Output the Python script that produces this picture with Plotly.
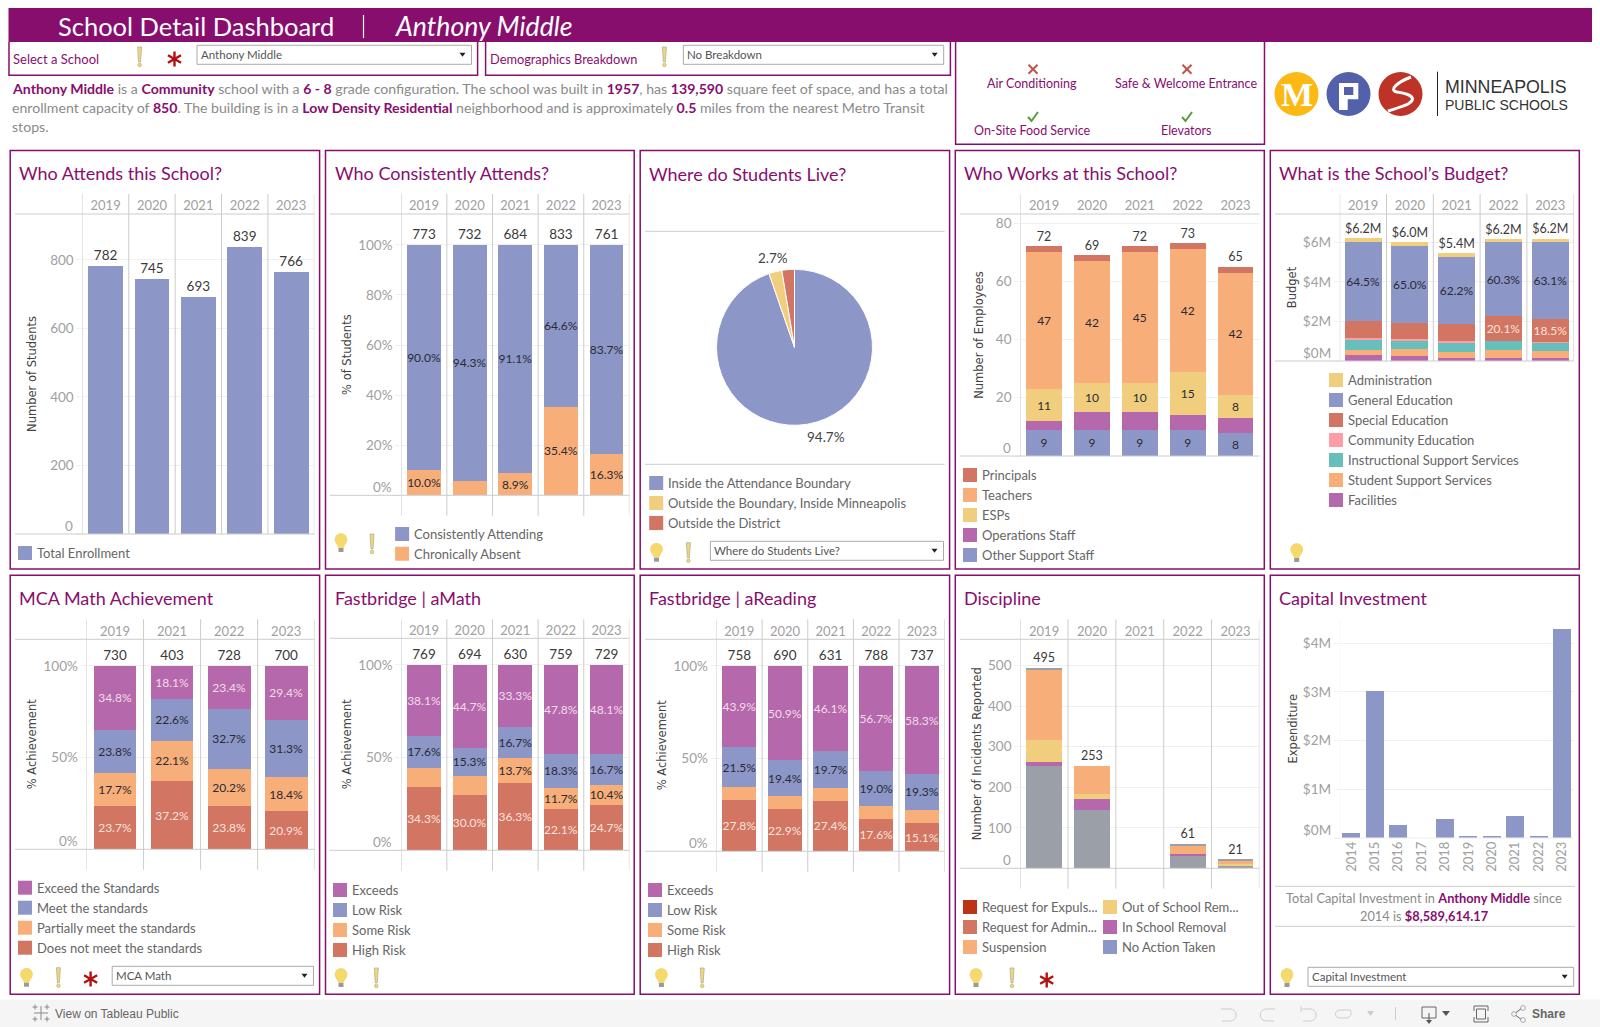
import plotly.graph_objects as go

W, H = 1600, 1027
FONT = "Lato"
AXF = "DejaVu Sans"
PURPLE = "#880E6E"
TXT = "#666666"
TICK = "#A0A0A0"
BLUE = "#8C97C8"
ORANGE = "#F8AE78"
YELLOW = "#F1CE7E"
RED = "#D27562"
MAUVE = "#B569AC"
TEAL = "#66BFBA"
PINK = "#FF9DA7"
GRAY = "#9A9FA8"
DRED = "#BC3318"
LIGHT = "#F3DBE9"
DARK = "#2A2A35"

YEARS = ["2019", "2020", "2021", "2022", "2023"]
MCA_YEARS = ["2019", "2021", "2022", "2023"]
CAP_YEARS = ["2014", "2015", "2016", "2017", "2018", "2019", "2020", "2021", "2022", "2023"]

ENROLL = [782, 745, 693, 839, 766]

ATT_TOTAL = [773, 732, 684, 833, 761]
ATT_ABSENT = [10.0, 5.7, 8.9, 35.4, 16.3]
ATT_CONSIST = [90.0, 94.3, 91.1, 64.6, 83.7]
ATT_ABSENT_SHOW = [True, False, True, True, True]

LIVE_NAMES = ["Inside the Attendance Boundary", "Outside the Boundary, Inside Minneapolis", "Outside the District"]
LIVE_VALUES = [94.7, 2.7, 2.6]

STAFF_TOTAL = [72, 69, 72, 73, 65]
STAFF_OTHER = [9, 9, 9, 9, 8]
STAFF_OPS = [3, 6, 6, 5, 5]
STAFF_ESP = [11, 10, 10, 15, 8]
STAFF_TEACH = [47, 42, 45, 42, 42]
STAFF_PRIN = [2, 2, 2, 2, 2]

BUD_TOTAL = ["$6.2M", "$6.0M", "$5.4M", "$6.2M", "$6.2M"]
BUD_FAC = [0.30, 0.25, 0.15, 0.15, 0.15]
BUD_STU = [0.25, 0.35, 0.30, 0.41, 0.35]
BUD_INS = [0.56, 0.46, 0.51, 0.46, 0.46]
BUD_COM = [0.05, 0.05, 0.05, 0.00, 0.02]
BUD_SPE = [0.86, 0.81, 0.88, 1.25, 1.15]
BUD_GEN = [4.00, 3.90, 3.36, 3.74, 3.91]
BUD_ADM = [0.20, 0.20, 0.20, 0.17, 0.15]
BUD_GEN_PCT = ["64.5%", "65.0%", "62.2%", "60.3%", "63.1%"]
BUD_SPE_PCT = ["", "", "", "20.1%", "18.5%"]

MCA_TOTAL = [730, 403, 728, 700]
MCA_NOT = [23.7, 37.2, 23.8, 20.9]
MCA_PART = [17.7, 22.1, 20.2, 18.4]
MCA_MEET = [23.8, 22.6, 32.7, 31.3]
MCA_EXC = [34.8, 18.1, 23.4, 29.4]

AM_TOTAL = [769, 694, 630, 759, 729]
AM_HIGH = [34.3, 30.0, 36.3, 22.1, 24.7]
AM_SOME = [10.0, 10.0, 13.7, 11.7, 10.4]
AM_LOW = [17.6, 15.3, 16.7, 18.3, 16.7]
AM_EXC = [38.1, 44.7, 33.3, 47.8, 48.1]
AM_SOME_SHOW = [False, False, True, True, True]

AR_TOTAL = [758, 690, 631, 788, 737]
AR_HIGH = [27.8, 22.9, 27.4, 17.6, 15.1]
AR_SOME = [6.8, 6.8, 6.8, 6.7, 7.3]
AR_LOW = [21.5, 19.4, 19.7, 19.0, 19.3]
AR_EXC = [43.9, 50.9, 46.1, 56.7, 58.3]
AR_SOME_SHOW = [False, False, False, False, False]

DIS_TOTAL = [495, 253, None, 61, 21]
DIS_BASE = [253, 145, 0, 31, 5]
DIS_INSCH = [10, 27, 0, 5, 0]
DIS_OUT = [54, 12, 0, 0, 5]
DIS_SUSP = [173, 69, 0, 20, 9]
DIS_TOP = [5, 0, 0, 5, 2]

CAP_VALUES = [0.10, 3.02, 0.267, 0.0, 0.39, 0.04, 0.02, 0.45, 0.02, 4.29]

shapes, annos, traces, layout_axes = [], [], [], {}


def X(p):
    return p / W


def Y(p):
    return 1 - p / H


def rect(x0, y0, x1, y1, fill=None, line=None, lw=1):
    shapes.append(dict(type="rect", xref="paper", yref="paper", x0=X(x0), x1=X(x1), y0=Y(y0), y1=Y(y1),
                       fillcolor=fill or "rgba(0,0,0,0)", line=dict(color=line or "rgba(0,0,0,0)", width=lw if line else 0)))


def seg(x0, y0, x1, y1, color="#CCCCCC", lw=1):
    shapes.append(dict(type="line", xref="paper", yref="paper", x0=X(x0), x1=X(x1), y0=Y(y0), y1=Y(y1),
                       line=dict(color=color, width=lw)))


def ell(cx, cy, rx, ry, fill, line=None):
    shapes.append(dict(type="circle", xref="paper", yref="paper", x0=X(cx - rx), x1=X(cx + rx), y0=Y(cy - ry), y1=Y(cy + ry),
                       fillcolor=fill, line=dict(color=line or fill, width=0.5 if line else 0)))


def path(cmds, fill=None, line=None, lw=1):
    out = []
    for c in cmds:
        if c == "Z":
            out.append("Z")
            continue
        vals = c[1:]
        coords = []
        for k in range(0, len(vals), 2):
            coords.append(f"{X(vals[k]):.5f},{Y(vals[k + 1]):.5f}")
        out.append(c[0] + " ".join(coords))
    shapes.append(dict(type="path", xref="paper", yref="paper", path=" ".join(out),
                       fillcolor=fill or "rgba(0,0,0,0)", line=dict(color=line or "rgba(0,0,0,0)", width=lw if line else 0)))


def txt(x, y, s, size=13, color=TXT, anchor="left", family=FONT, angle=0):
    annos.append(dict(xref="paper", yref="paper", x=X(x), y=Y(y), text=s, showarrow=False, xanchor=anchor, yanchor="middle",
                      font=dict(size=size, color=color, family=family), textangle=angle, borderpad=0, borderwidth=0))


def span(s):
    return f'<span style="color:{PURPLE}"><b>{s}</b></span>'


def bulb(cx, cy):
    ell(cx, cy - 3.5, 6, 6, "#F5D96B", "#E2C75A")
    path([("M", cx - 5, cy), ("L", cx - 2.5, cy + 5), ("L", cx + 2.5, cy + 5), ("L", cx + 5, cy), "Z"], fill="#F5D96B")
    rect(cx - 2.5, cy + 5, cx + 2.5, cy + 9, fill="#9A9A9A")


def excl(cx, cy):
    path([("M", cx - 2, cy - 10), ("L", cx + 2, cy - 10), ("L", cx + 1, cy + 5), ("L", cx - 1, cy + 5), "Z"], fill="#F1D77C", line="#A8A890", lw=0.7)
    ell(cx, cy + 8, 1.8, 1.8, "#F1D77C", "#A89A60")


def star(cx, cy, r=7.5):
    c = "#B01010"
    seg(cx, cy - r, cx, cy + r, c, 2.4)
    seg(cx - r * 0.87, cy - r * 0.5, cx + r * 0.87, cy + r * 0.5, c, 2.4)
    seg(cx - r * 0.87, cy + r * 0.5, cx + r * 0.87, cy - r * 0.5, c, 2.4)


def dropdown(x0, y0, x1, y1, s):
    rect(x0, y0, x1, y1, fill="white", line="#AAAAAA", lw=1)
    txt(x0 + 4, (y0 + y1) / 2, s, 11.5, "#555555")
    path([("M", x1 - 12, (y0 + y1) / 2 - 2), ("L", x1 - 6, (y0 + y1) / 2 - 2), ("L", x1 - 9, (y0 + y1) / 2 + 2), "Z"], fill="#222222")


def legend(x, rows, items, dy=20):
    for n, (name, col) in enumerate(items):
        yc = rows + n * dy
        rect(x, yc - 7, x + 14, yc + 7, fill=col)
        txt(x + 19, yc, name, 13, "#666666")


def panel(x0, y0, x1, y1, title, ty):
    rect(x0, y0, x1, y1, line=PURPLE, lw=1.5)
    txt(x0 + 9, ty, title, 18, PURPLE)


def chart(i, L, R, T, B, cats, ymax, yticks, ylabels, ytitle, vtop, vbot, hleft, seps=True, standoff=9, bottom_labels=False, hline=True, sepcol="#CCCCCC", basecol="#CCCCCC"):
    n = len(cats)
    layout_axes[f"xaxis{i}"] = dict(domain=[X(L), X(R)], range=[-0.5, n - 0.5], type="category", categoryorder="array",
                                    categoryarray=cats, side="bottom" if bottom_labels else "top", anchor=f"y{i}",
                                    showgrid=False, zeroline=False, showline=False, ticks="",
                                    tickangle=-90 if bottom_labels else 0,
                                    tickfont=dict(size=13, color=TICK, family=FONT), fixedrange=True)
    labs = [""] + list(ylabels[1:])
    layout_axes[f"yaxis{i}"] = dict(domain=[Y(B), Y(T)], range=[0, ymax], anchor=f"x{i}", tickmode="array", tickvals=yticks, ticktext=labs,
                                    showgrid=True, gridcolor="#F0F0F0", gridwidth=1, zeroline=False, showline=False,
                                    ticks="outside", ticklen=5, tickcolor="#F0F0F0",
                                    tickfont=dict(size=13.5, color=TICK, family=FONT), fixedrange=True,
                                    title=dict(text=ytitle, font=dict(size=11.5, color="#444444", family=AXF), standoff=standoff))
    annos.append(dict(xref=f"x{i} domain", yref=f"y{i}", x=0, y=yticks[0], text=ylabels[0], showarrow=False, xanchor="right", yanchor="middle",
                      xshift=-7, yshift=8.5, font=dict(size=13.5, color=TICK, family=FONT)))
    ks = range(n + 1) if seps else [0]
    for k in ks:
        shapes.append(dict(type="line", xref=f"x{i}", yref="paper", x0=k - 0.5, x1=k - 0.5, y0=Y(vtop), y1=Y(vbot), line=dict(color=sepcol, width=1)))
    if hline:
        seg(hleft, T, R, T)
    seg(hleft, B, R, B, basecol)


def stack(i, cats, series, width=0.75, size=12):
    for name, vals, col, labels, tcol in series:
        traces.append(go.Bar(x=cats, y=vals, name=name, marker=dict(color=col, line=dict(width=0)), width=width,
                             xaxis=f"x{i}", yaxis=f"y{i}", text=labels, textposition="inside", insidetextanchor="middle",
                             textangle=0, constraintext="none", textfont=dict(size=size, color=tcol, family=FONT),
                             cliponaxis=False, showlegend=False, hoverinfo="skip"))


def totals(i, cats, ys, labels, size=13.5):
    traces.append(go.Scatter(x=cats, y=ys, text=labels, mode="markers+text", textposition="top center", marker=dict(size=2, opacity=0),
                             textfont=dict(size=size, color="#3A3A3A", family=FONT), xaxis=f"x{i}", yaxis=f"y{i}",
                             cliponaxis=False, showlegend=False, hoverinfo="skip"))


def pct(vals, show=None):
    return [f"{v:.1f}%" if (show is None or show[k]) else "" for k, v in enumerate(vals)]


# ---------- header ----------
rect(8.5, 8, 1592, 42, fill=PURPLE)
txt(58, 26, "School Detail Dashboard", 25.5, "white")
seg(363.5, 15, 363.5, 38, "white", 1.2)
txt(394.5, 26, "<i>Anthony Middle</i>", 26.7, "white")
for a, b in ((9, 477.6), (485.6, 950.4)):
    path([("M", a, 42), ("L", a, 75.3), ("L", b, 75.3), ("L", b, 42)], line=PURPLE, lw=1.5)
txt(13, 59, "Select a School", 13, PURPLE)
excl(139.6, 57)
star(174.5, 59)
dropdown(197, 45.3, 471.5, 64.3, "Anthony Middle")
txt(490, 59, "Demographics Breakdown", 12.8, PURPLE)
excl(664.4, 57)
dropdown(683.4, 45.3, 943.7, 64.3, "No Breakdown")

txt(12, 88.2, f"{span('Anthony Middle')} is a {span('Community')} school with a {span('6 - 8')} grade configuration. The school was built in {span('1957')}, has {span('139,590')} square feet of space, and has a total", 14.12, "#8A8A8A")
txt(12, 107.2, f"enrollment capacity of {span('850')}. The building is in a {span('Low Density Residential')} neighborhood and is approximately {span('0.5')} miles from the nearest Metro Transit", 14.12, "#8A8A8A")
txt(12, 126.5, "stops.", 14.12, "#8A8A8A")

path([("M", 955.6, 42), ("L", 955.6, 144.3), ("L", 1264.5, 144.3), ("L", 1264.5, 42)], line=PURPLE, lw=1.5)
for cx, cy in ((1033, 69.3), (1187, 69.3)):
    seg(cx - 4.5, cy - 4.5, cx + 4.5, cy + 4.5, "#C0524A", 2)
    seg(cx - 4.5, cy + 4.5, cx + 4.5, cy - 4.5, "#C0524A", 2)
for cx, cy in ((1033, 117), (1187, 117)):
    path([("M", cx - 5, cy), ("L", cx - 1.5, cy + 4), ("L", cx + 5, cy - 5)], line="#5B9A3A", lw=2)
for cx, cy, s in ((1032, 83.7, "Air Conditioning"), (1186, 83.7, "Safe &amp; Welcome Entrance"), (1032, 130.7, "On-Site Food Service"), (1186, 130.7, "Elevators")):
    txt(cx, cy, s, 12.5, PURPLE, "center")

# logo
ell(1296.5, 94, 22, 22, "#FCB813")
txt(1296.5, 95, "<b>M</b>", 34, "white", "center", "Liberation Serif")
ell(1348.5, 94, 22, 22, "#5361AB")
path([("M", 1339, 83), ("L", 1358.3, 83), ("L", 1358.3, 99.3), ("L", 1347.7, 99.3), ("L", 1347.7, 110), ("L", 1339, 110), "Z"], fill="white")
rect(1344, 87, 1353.3, 95, fill="#5361AB")
ell(1400.5, 94, 22, 22, "#BD3327")
path([("M", 1411, 77), ("C", 1398, 82, 1388, 90, 1397, 92), ("C", 1410, 94, 1418, 98, 1408, 104), ("C", 1402, 107, 1394, 109, 1388, 111)], line="white", lw=3)
seg(1437.5, 71.7, 1437.5, 116, "#222222", 1)
txt(1445, 87, "MINNEAPOLIS", 17.8, "#333333", family="Liberation Sans")
txt(1445, 105, "PUBLIC SCHOOLS", 14, "#333333", family="Liberation Sans")

# ---------- panels ----------
TOP = (150.5, 569)
BOT = (575.3, 994.3)
PX = [(10.2, 319.6), (325.5, 634.2), (640.2, 949.6), (955.3, 1264.3), (1270.3, 1579.3)]
T_TITLES = ["Who Attends this School?", "Who Consistently Attends?", "Where do Students Live?", "Who Works at this School?", "What is the School\u2019s Budget?"]
B_TITLES = ["MCA Math Achievement", "Fastbridge | aMath", "Fastbridge | aReading", "Discipline", "Capital Investment"]
for (a, b), t, extra in zip(PX, T_TITLES, (0, 0, 1, 0, 0)):
    panel(a, TOP[0], b, TOP[1], t, 173 + extra)
for (a, b), t in zip(PX, B_TITLES):
    panel(a, BOT[0], b, BOT[1], t, 598)

# 1 enrollment
chart(11, 82.4, 314.3, 214, 534, YEARS, 934, [0, 200, 400, 600, 800], ["0", "200", "400", "600", "800"], "Number of Students", 194, 534, 15, standoff=11)
stack(11, YEARS, [("Total Enrollment", ENROLL, BLUE, None, DARK)])
totals(11, YEARS, ENROLL, ENROLL)
legend(18, 553, [("Total Enrollment", BLUE)])

# 2 attendance
chart(2, 401.2, 629.4, 214, 495.3, YEARS, 112.3, [0, 20, 40, 60, 80, 100], ["0%", "20%", "40%", "60%", "80%", "100%"], "% of Students", 194, 515.7, 329.8, standoff=4)
stack(2, YEARS, [("Chronically Absent", ATT_ABSENT, ORANGE, pct(ATT_ABSENT, ATT_ABSENT_SHOW), DARK),
                 ("Consistently Attending", ATT_CONSIST, BLUE, pct(ATT_CONSIST), DARK)], 0.74)
totals(2, YEARS, [100] * 5, ATT_TOTAL)
legend(395.1, 534, [("Consistently Attending", BLUE), ("Chronically Absent", ORANGE)], 19.7)
bulb(341, 543)
excl(372, 544)

# 3 pie
seg(645, 231.3, 944.7, 231.3)
seg(645, 464.3, 944.7, 464.3)
traces.append(go.Pie(labels=LIVE_NAMES, values=LIVE_VALUES, sort=False, direction="clockwise", rotation=0,
                     marker=dict(colors=[BLUE, YELLOW, RED], line=dict(color="white", width=1)), textinfo="none",
                     domain=dict(x=[X(716.5), X(872.5)], y=[Y(425.6), Y(269)]), showlegend=False, hoverinfo="skip"))
txt(773, 258.5, f"{LIVE_VALUES[1]}%", 13.5, "#444444", "center")
txt(825.5, 436.5, f"{LIVE_VALUES[0]}%", 13.5, "#444444", "center")
legend(649.2, 483, [(LIVE_NAMES[0], BLUE), (LIVE_NAMES[1], YELLOW), (LIVE_NAMES[2], RED)])
bulb(656.5, 552.7)
excl(688.4, 552.7)
dropdown(710.4, 541.3, 943.5, 560.3, "Where do Students Live?")

# 4 staff
chart(4, 1020.2, 1259.4, 214, 456, YEARS, 83.1, [0, 20, 40, 60, 80], ["0", "20", "40", "60", "80"], "Number of Employees", 194, 456, 959.8, seps=False, standoff=9)
stack(4, YEARS, [("Other Support Staff", STAFF_OTHER, BLUE, [str(v) for v in STAFF_OTHER], DARK),
                 ("Operations Staff", STAFF_OPS, MAUVE, None, DARK),
                 ("ESPs", STAFF_ESP, YELLOW, [str(v) for v in STAFF_ESP], DARK),
                 ("Teachers", STAFF_TEACH, ORANGE, [str(v) for v in STAFF_TEACH], DARK),
                 ("Principals", STAFF_PRIN, RED, None, DARK)])
totals(4, YEARS, STAFF_TOTAL, STAFF_TOTAL, 12.5)
legend(963, 475, [("Principals", RED), ("Teachers", ORANGE), ("ESPs", YELLOW), ("Operations Staff", MAUVE), ("Other Support Staff", BLUE)])

# 5 budget
chart(5, 1339.7, 1573.7, 214, 361, YEARS, 7.44, [0, 2, 4, 6], ["$0M", "$2M", "$4M", "$6M"], "Budget", 194, 361, 1275, standoff=3)
stack(5, YEARS, [("Facilities", BUD_FAC, MAUVE, None, DARK), ("Student Support Services", BUD_STU, ORANGE, None, DARK),
                 ("Instructional Support Services", BUD_INS, TEAL, None, DARK), ("Community Education", BUD_COM, PINK, None, DARK),
                 ("Special Education", BUD_SPE, RED, BUD_SPE_PCT, "#F9E3DD"), ("General Education", BUD_GEN, BLUE, BUD_GEN_PCT, DARK),
                 ("Administration", BUD_ADM, YELLOW, None, DARK)], 0.79)
BUD_SUM = [sum(v) for v in zip(BUD_FAC, BUD_STU, BUD_INS, BUD_COM, BUD_SPE, BUD_GEN, BUD_ADM)]
totals(5, YEARS, BUD_SUM, BUD_TOTAL, 12.5)
legend(1329, 380, [("Administration", YELLOW), ("General Education", BLUE), ("Special Education", RED), ("Community Education", PINK),
                   ("Instructional Support Services", TEAL), ("Student Support Services", ORANGE), ("Facilities", MAUVE)])
bulb(1296.7, 553)

# 6 MCA
chart(6, 86.5, 314.7, 639.3, 849.3, MCA_YEARS, 114.5, [0, 50, 100], ["0%", "50%", "100%"], "% Achievement", 619.3, 869.7, 15, standoff=4)
stack(6, MCA_YEARS, [("Does not meet the standards", MCA_NOT, RED, pct(MCA_NOT), "#F9E3DD"),
                     ("Partially meet the standards", MCA_PART, ORANGE, pct(MCA_PART), DARK),
                     ("Meet the standards", MCA_MEET, BLUE, pct(MCA_MEET), DARK),
                     ("Exceed the Standards", MCA_EXC, MAUVE, pct(MCA_EXC), LIGHT)])
totals(6, MCA_YEARS, [100] * 4, MCA_TOTAL)
legend(18, 887.7, [("Exceed the Standards", MAUVE), ("Meet the standards", BLUE), ("Partially meet the standards", ORANGE), ("Does not meet the standards", RED)])
bulb(26.5, 977.7)
excl(58.4, 977.7)
star(90.6, 979)
dropdown(112.2, 966.3, 313.5, 985.3, "MCA Math")

# 7 aMath
RISK = [("Exceeds", MAUVE), ("Low Risk", BLUE), ("Some Risk", ORANGE), ("High Risk", RED)]
chart(7, 401.2, 629.4, 638.3, 850.3, YEARS, 114.4, [0, 50, 100], ["0%", "50%", "100%"], "% Achievement", 619.3, 870.7, 329.8, standoff=4)
stack(7, YEARS, [("High Risk", AM_HIGH, RED, pct(AM_HIGH), "#F9E3DD"), ("Some Risk", AM_SOME, ORANGE, pct(AM_SOME, AM_SOME_SHOW), DARK),
                 ("Low Risk", AM_LOW, BLUE, pct(AM_LOW), DARK), ("Exceeds", AM_EXC, MAUVE, pct(AM_EXC), LIGHT)], 0.74)
totals(7, YEARS, [100] * 5, AM_TOTAL)
legend(333, 890, RISK)
bulb(341, 978)
excl(376.3, 978)

# 8 aReading
chart(8, 716.5, 944.7, 639.3, 851.3, YEARS, 114.4, [0, 50, 100], ["0%", "50%", "100%"], "% Achievement", 619.3, 871.7, 645, standoff=4)
stack(8, YEARS, [("High Risk", AR_HIGH, RED, pct(AR_HIGH), "#F9E3DD"), ("Some Risk", AR_SOME, ORANGE, pct(AR_SOME, AR_SOME_SHOW), DARK),
                 ("Low Risk", AR_LOW, BLUE, pct(AR_LOW), DARK), ("Exceeds", AR_EXC, MAUVE, pct(AR_EXC), LIGHT)], 0.75)
totals(8, YEARS, [100] * 5, AR_TOTAL)
legend(648, 890, RISK)
bulb(661.4, 978)
excl(702.2, 978)

# 9 discipline
chart(9, 1020.2, 1259.4, 639.3, 868.3, YEARS, 565, [0, 100, 200, 300, 400, 500], ["0", "100", "200", "300", "400", "500"], "Number of Incidents Reported", 619.3, 888.7, 959.8, standoff=3)
stack(9, YEARS, [("Other", DIS_BASE, GRAY, None, DARK), ("In School Removal", DIS_INSCH, MAUVE, None, DARK),
                 ("Out of School Removal", DIS_OUT, YELLOW, None, DARK), ("Suspension", DIS_SUSP, ORANGE, None, DARK),
                 ("Other actions", DIS_TOP, GRAY, None, DARK)])
totals(9, YEARS, DIS_TOTAL, DIS_TOTAL, 12.5)
legend(963, 907, [("Request for Expuls...", DRED), ("Request for Admin...", RED), ("Suspension", ORANGE)])
legend(1103, 907, [("Out of School Rem...", YELLOW), ("In School Removal", MAUVE), ("No Action Taken", BLUE)])
bulb(976, 978)
excl(1012, 978)
star(1046.7, 980)

# 10 capital
chart(10, 1339.7, 1573.7, 619.3, 838, CAP_YEARS, 4.49, [0, 1, 2, 3, 4], ["$0M", "$1M", "$2M", "$3M", "$4M"], "Expenditure", 619.3, 838, 1335, seps=False, standoff=2, bottom_labels=True, hline=False, sepcol="#EEEEEE", basecol="#EEEEEE")
stack(10, CAP_YEARS, [("Expenditure", CAP_VALUES, BLUE, None, DARK)], 0.77)
seg(1275, 886.3, 1575, 886.3)
seg(1275, 926.3, 1575, 926.3)
txt(1424, 897.7, f"Total Capital Investment in {span('Anthony Middle')} since", 12.8, "#8A8A8A", "center")
txt(1424, 915.7, f"2014 is {span('$8,589,614.17')}", 12.8, "#8A8A8A", "center")
bulb(1287, 978)
dropdown(1308, 967.3, 1573.7, 986.3, "Capital Investment")

# ---------- toolbar ----------
rect(0, 999.5, 1600, 1027, fill="#F5F5F5")
for (dx, dy, r) in ((0, 0, 7), (-6, -6, 2.5), (6, -6, 2.5), (-6, 6, 2.5), (6, 6, 2.5)):
    seg(41 + dx - r, 1013 + dy, 41 + dx + r, 1013 + dy, "#888888", 1)
    seg(41 + dx, 1013 + dy - r, 41 + dx, 1013 + dy + r, "#888888", 1)
txt(55, 1013.5, "View on Tableau Public", 12, "#666666", family="Liberation Sans")
ICON = "#CCCCCC"
path([("M", 1221, 1009), ("L", 1230, 1009), ("C", 1238, 1009, 1238, 1021, 1230, 1021), ("L", 1222, 1021)], line=ICON, lw=1)
path([("M", 1275, 1009), ("L", 1267, 1009), ("C", 1258, 1009, 1258, 1021, 1267, 1021), ("L", 1274, 1021)], line=ICON, lw=1)
path([("M", 1302, 1009), ("L", 1310, 1009), ("C", 1318, 1009, 1318, 1021, 1310, 1021), ("L", 1303, 1021)], line=ICON, lw=1)
seg(1301, 1006, 1301, 1012, ICON)
path([("M", 1350, 1010), ("L", 1340, 1010), ("C", 1334, 1010, 1334, 1018, 1340, 1018), ("L", 1346, 1018), ("C", 1352, 1018, 1352, 1010, 1350, 1010)], line=ICON, lw=1)
path([("M", 1367, 1011), ("L", 1374, 1011), ("L", 1370.5, 1016), "Z"], fill=ICON)
seg(1395.5, 1007, 1395.5, 1020, "#CCCCCC")
path([("M", 1422, 1007), ("L", 1436, 1007), ("L", 1436, 1018), ("L", 1422, 1018), "Z"], line="#666666", lw=1)
seg(1429, 1013, 1429, 1023, "#555555", 1)
path([("M", 1426, 1020), ("L", 1432, 1020), ("L", 1429, 1024), "Z"], fill="#555555")
path([("M", 1442, 1011), ("L", 1450, 1011), ("L", 1446, 1016), "Z"], fill="#555555")
path([("M", 1474, 1011), ("L", 1474, 1006), ("L", 1488, 1006), ("L", 1488, 1011)], line="#666666", lw=1)
path([("M", 1474, 1017), ("L", 1474, 1022), ("L", 1488, 1022), ("L", 1488, 1017)], line="#666666", lw=1)
rect(1476.5, 1009, 1485.5, 1019, line="#666666", lw=1)
seg(1514, 1014, 1522, 1008, "#666666", 1)
seg(1514, 1014, 1522, 1020, "#666666", 1)
ell(1514, 1014, 2.4, 2.4, "#F5F5F5", "#666666")
ell(1523, 1008, 2.4, 2.4, "#F5F5F5", "#666666")
ell(1523, 1020, 2.4, 2.4, "#F5F5F5", "#666666")
txt(1532, 1014, "<b>Share</b>", 12, "#666666", family="Liberation Sans")

fig = go.Figure(data=traces)
fig.update_layout(width=W, height=H, margin=dict(l=0, r=0, t=0, b=0, autoexpand=False), autosize=False, paper_bgcolor="white", plot_bgcolor="white",
                  barmode="stack", shapes=shapes, annotations=annos, font=dict(family=FONT), showlegend=False, **layout_axes)
fig.write_html("out.html", config=dict(displayModeBar=False, responsive=False),
               post_script="document.body.style.margin='0';document.body.style.overflow='hidden';")
